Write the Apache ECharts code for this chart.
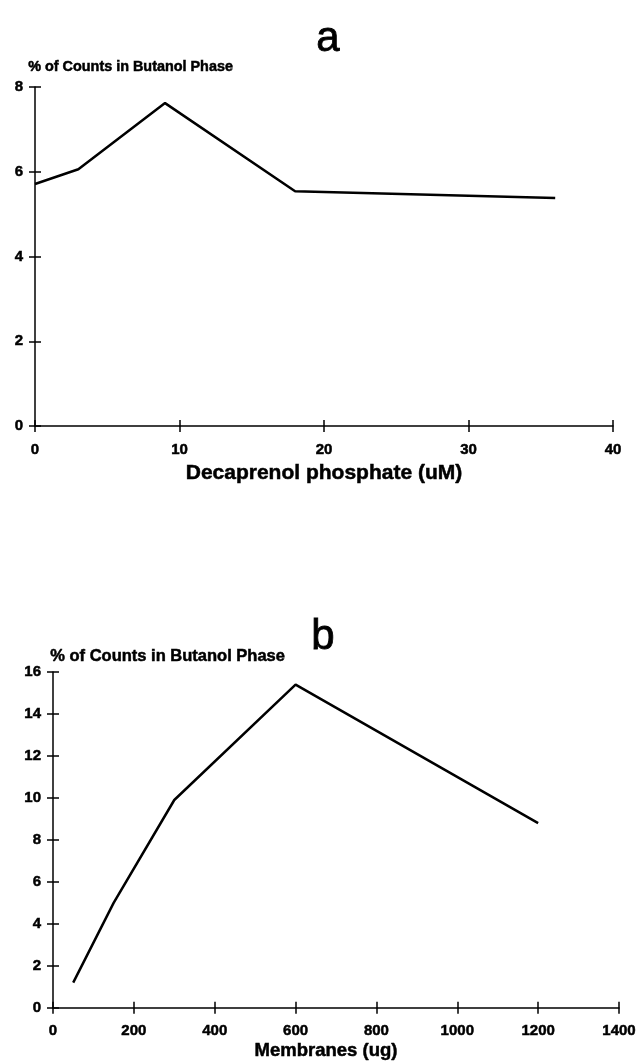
<!DOCTYPE html>
<html>
<head>
<meta charset="utf-8">
<script src="https://cdn.jsdelivr.net/npm/echarts@6/dist/echarts.min.js"></script>
<style>
  * { margin: 0; padding: 0; }
  body { background: #fff; }
  #chart { width: 641px; height: 1062px; }
</style>
</head>
<body>
<div id="chart"></div>
<script>
  // panel a: decaprenol phosphate (uM) vs % counts
  const doseA = [0, 3, 9, 18, 36];
  const countsA = [5.71, 6.06, 7.62, 5.54, 5.38];
  // panel b: membranes (ug) vs % counts
  const membranesB = [50, 150, 300, 600, 1200];
  const countsB = [1.2, 5.0, 9.9, 15.4, 8.8];

  const yNameText = '% of Counts in Butanol Phase';
  const font = 'Liberation Sans, Arial, sans-serif';
  // heavier look for the bold labels
  const heavy = { color: '#000', fontFamily: font, fontWeight: 'bold', textBorderColor: '#000', textBorderWidth: 0.5 };

  const chart = echarts.init(document.getElementById('chart'));

  // tick that crosses the axis: outside one from the main axis + inside one from an overlay axis
  function mainAxis(grid, min, max, interval, margin, extra) {
    return Object.assign({
      type: 'value',
      gridIndex: grid,
      min: min,
      max: max,
      interval: interval,
      axisLine: { show: true, lineStyle: { color: '#000', width: 1.5 } },
      axisTick: { show: true, length: 6, lineStyle: { color: '#000', width: 1.5 } },
      axisLabel: Object.assign({ fontSize: 15, margin: margin, formatter: v => String(v) }, heavy),
      splitLine: { show: false },
    }, extra || {});
  }
  function overlayAxis(grid, min, max, interval, position) {
    return {
      type: 'value',
      gridIndex: grid,
      position: position,
      min: min,
      max: max,
      interval: interval,
      axisLine: { show: false },
      axisTick: { show: true, inside: true, length: 6, lineStyle: { color: '#000', width: 1.5 } },
      axisLabel: { show: false },
      splitLine: { show: false },
    };
  }

  const option = {
    backgroundColor: '#fff',
    animation: false,
    title: [
      { text: 'a', left: 323, top: 13, textAlign: 'center',
        textStyle: { fontFamily: font, fontSize: 42, fontWeight: 'normal', color: '#000', textBorderColor: '#000', textBorderWidth: 0.8 } },
      { text: 'b', left: 318, top: 611, textAlign: 'center',
        textStyle: { fontFamily: font, fontSize: 42, fontWeight: 'normal', color: '#000', textBorderColor: '#000', textBorderWidth: 0.8 } },
    ],
    graphic: [
      { type: 'text', left: 28, top: 60,
        style: Object.assign({ text: yNameText, fontSize: 14.4, fill: '#000', stroke: '#000', lineWidth: 0.5 }, { fontFamily: font, fontWeight: 'bold' }) },
      { type: 'text', left: 50, top: 648,
        style: Object.assign({ text: yNameText, fontSize: 16.5, fill: '#000', stroke: '#000', lineWidth: 0.5 }, { fontFamily: font, fontWeight: 'bold' }) },
    ],
    grid: [
      { left: 35, right: 28, top: 87, bottom: 636 },
      { left: 53, right: 22, top: 672, bottom: 54 },
    ],
    xAxis: [
      mainAxis(0, 0, 40, 10, 16, {
        position: 'bottom',
        name: 'Decaprenol phosphate (uM)',
        nameLocation: 'middle',
        nameGap: 37,
        nameTextStyle: Object.assign({ fontSize: 21 }, heavy),
      }),
      overlayAxis(0, 0, 40, 10, 'bottom'),
      mainAxis(1, 0, 1400, 200, 16, {
        position: 'bottom',
        name: 'Membranes (ug)',
        nameLocation: 'middle',
        nameGap: 34,
        nameTextStyle: Object.assign({ fontSize: 18.5, padding: [0, 20, 0, 0] }, heavy),
      }),
      overlayAxis(1, 0, 1400, 200, 'bottom'),
    ],
    yAxis: [
      mainAxis(0, 0, 8, 2, 12, { position: 'left' }),
      overlayAxis(0, 0, 8, 2, 'left'),
      mainAxis(1, 0, 16, 2, 12, { position: 'left' }),
      overlayAxis(1, 0, 16, 2, 'left'),
    ],
    series: [
      {
        type: 'line',
        xAxisIndex: 0,
        yAxisIndex: 0,
        data: doseA.map((x, i) => [x, countsA[i]]),
        showSymbol: false,
        lineStyle: { color: '#000', width: 2.5 },
      },
      {
        type: 'line',
        xAxisIndex: 2,
        yAxisIndex: 2,
        data: membranesB.map((x, i) => [x, countsB[i]]),
        showSymbol: false,
        lineStyle: { color: '#000', width: 2.5 },
      },
    ],
  };

  chart.setOption(option);
</script>
</body>
</html>
